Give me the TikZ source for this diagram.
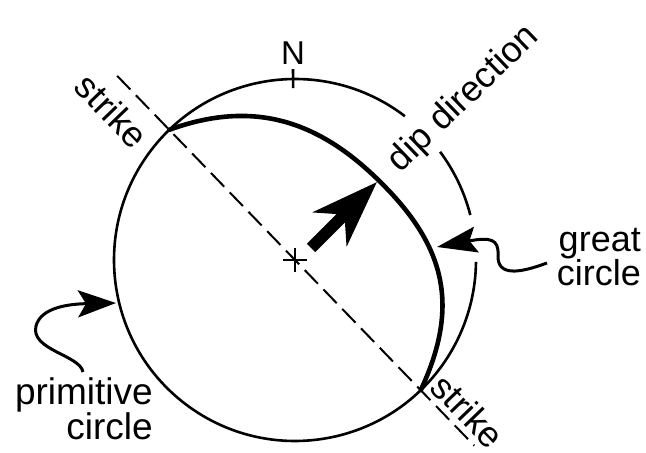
\documentclass[tikz,border=0pt]{standalone}
\usepackage{fontspec}
\setmainfont{Liberation Sans}
\usetikzlibrary{arrows.meta,calc}
\begin{document}
\begin{tikzpicture}[x=1pt,y=1pt,
  prim/.style={line width=2.6pt},
  gcline/.style={line width=4.6pt, line cap=round},
  strikeline/.style={line width=2pt, dash pattern=on 19pt off 8pt},
  lbl/.style={inner sep=0pt, font=\fontsize{36}{30}\selectfont},
  ptr/.style={line width=3pt, -{Stealth[length=38pt,width=27pt,inset=8pt]}},
  dipptr/.style={line width=12pt, -{Stealth[length=66pt,width=47pt,inset=20pt]}},
]
\useasboundingbox (0,0) rectangle (646,453);
\coordinate (O) at (295,193);
\coordinate (S1) at ($(O)+(134:181)$);
\coordinate (S2) at ($(O)+(-46:181)$);
\coordinate (E1) at ($(O)+(134:256)$);
\coordinate (E2) at ($(O)+(-46:258)$);
\coordinate (M) at (391,260);
% primitive circle (with gaps)
\draw[prim] ($(O)+(52.6:181)$) arc[start angle=52.6, end angle=359.4, radius=181];
\draw[prim] ($(O)+(14.4:181)$) arc[start angle=14.4, end angle=36.7, radius=181];
% north tick
\draw[prim] ($(O)+(90.6:172)$) -- ($(O)+(90.6:191)$);
% centre cross
\draw[prim] ($(O)+(-12,0)$) -- ($(O)+(12,0)$);
\draw[prim] ($(O)+(0,-12)$) -- ($(O)+(0,12)$);
% strike line
\draw[strikeline] (E1) -- (E2);
% great circle
\draw[gcline] (S1) .. controls (258.6,355.7) and (326.2,329.5) .. (M)
  .. controls (449,197.8) and (456.6,139.8) .. (S2);
% dip direction arrow
\coordinate (dT) at (311,205);
\coordinate (dH) at (377,271);
\draw[dipptr] (dT) -- (dH);
% labels
\node[lbl, font=\fontsize{33}{33}\selectfont] (N) at (293,400) {N};
\node[lbl, rotate=-46] (strikeA) at (112,342) {strike};
\node[lbl, rotate=-46] (strikeB) at (468,42) {strike};
\node[lbl, rotate=44] (dip) at (464,354) {dip direction};
\node[lbl, align=right, anchor=east] (gc) at (641,196) {great\\circle};
\node[lbl, align=right, anchor=east, font=\fontsize{37}{35}\selectfont] (pc) at (153,44) {primitive\\circle};
% pointer arrows
\coordinate (gT) at (547,190);
\coordinate (gH) at (437,206);
\draw[ptr, -{Stealth[length=40pt,width=26pt,inset=7pt]}] (gT) .. controls (520,180) and (497,176) .. (498,198) .. controls (499,214) and (490,216) .. (gH);
\coordinate (pT) at (83,81);
\coordinate (pH) at (116,150);
\draw[ptr] (pT) .. controls (80,98) and (30,103) .. (36,127) .. controls (41,146) and (70,149) .. (pH);
\end{tikzpicture}
\end{document}
